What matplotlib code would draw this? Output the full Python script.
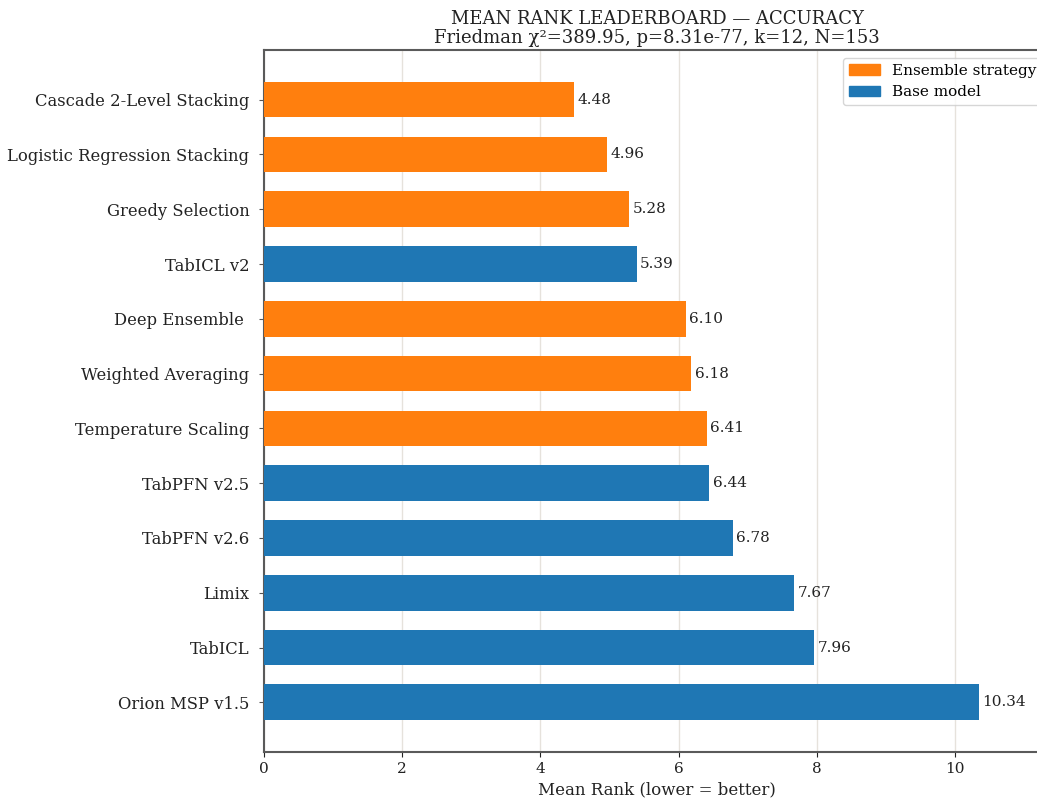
import matplotlib.pyplot as plt
from matplotlib.patches import Patch

plt.rcParams['font.family'] = ['DejaVu Serif', 'DejaVu Sans']

models = ['Cascade 2-Level Stacking', 'Logistic Regression Stacking', 'Greedy Selection',
          'TabICL v2', 'Deep Ensemble ', 'Weighted Averaging', 'Temperature Scaling',
          'TabPFN v2.5', 'TabPFN v2.6', 'Limix', 'TabICL', 'Orion MSP v1.5']
mean_rank = [4.48, 4.96, 5.28, 5.39, 6.10, 6.18, 6.41, 6.44, 6.78, 7.67, 7.96, 10.34]
is_ensemble = [True, True, True, False, True, True, True, False, False, False, False, False]

ORANGE = '#ff7f0e'
BLUE = '#1f77b4'


def main():
    fig = plt.figure(figsize=(10.37, 8.06), dpi=100)
    ax = fig.add_axes([0.2546, 0.067, 0.758, 0.871])

    colors = [ORANGE if e else BLUE for e in is_ensemble]
    y = list(range(len(models)))
    ax.barh(y, mean_rank, height=0.65, color=colors, zorder=3)
    for yi, v in zip(y, mean_rank):
        ax.text(v + 0.05, yi, f'{v:.2f}', va='center', ha='left', fontsize=11, color='#222222', zorder=4)

    ax.set_yticks(y)
    ax.set_yticklabels(models, fontsize=11.8, color='#222222')
    ax.invert_yaxis()
    ax.set_xlim(0, max(mean_rank) * 1.1)
    ax.tick_params(axis='x', labelsize=11, colors='#222222')
    ax.tick_params(axis='y', pad=7, color='#555555')
    ax.set_xlabel('Mean Rank (lower = better)', fontsize=12, color='#222222')
    ax.set_title('MEAN RANK LEADERBOARD — ACCURACY\nFriedman χ²=389.95, p=8.31e-77, k=12, N=153',
                 fontsize=13, color='#222222', pad=5, linespacing=1.05)
    ax.grid(axis='x', color='#e6e2dc', linewidth=1, zorder=0)
    for s in ax.spines.values():
        s.set_color('#5a5a5a')
        s.set_linewidth(1.5)

    handles = [Patch(color=ORANGE, label='Ensemble strategy'), Patch(color=BLUE, label='Base model')]
    ax.legend(handles=handles, loc='upper right', fontsize=11)

    fig.savefig('out.png', dpi=100)


if __name__ == '__main__':
    main()
